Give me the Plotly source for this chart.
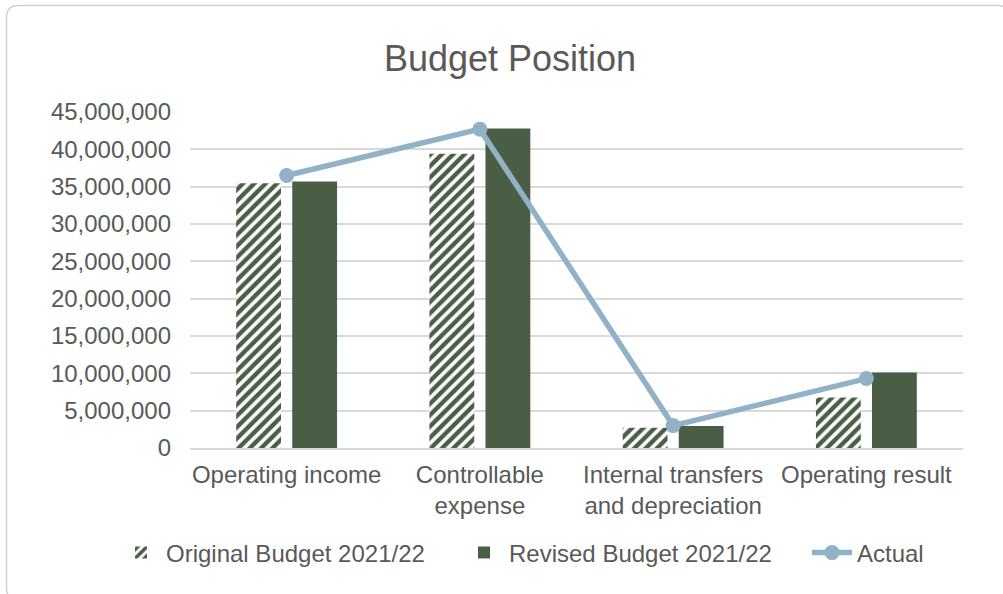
import plotly.graph_objects as go

# Budget figures by line item
categories = ["Operating income", "Controllable<br>expense",
              "Internal transfers<br>and depreciation", "Operating result"]
original_budget = [35_450_000, 39_400_000, 2_700_000, 6_750_000]
revised_budget = [35_700_000, 42_800_000, 2_950_000, 10_100_000]
actual = [36_500_000, 42_700_000, 3_000_000, 9_300_000]

GREEN = "#4a5e46"
BLUE = "#91b2c6"
TEXT = "#595959"
GRID = "#d9d9d9"
FONT = "Liberation Sans, Arial, sans-serif"

W, H = 1003, 594
L, R, T, B = 190, 40, 112, 146

fig = go.Figure()
fig.add_trace(go.Bar(
    name="Original Budget 2021/22", x=categories, y=original_budget,
    legend="legend",
    marker=dict(color="white",
                pattern=dict(shape="/", fgcolor=GREEN, bgcolor="white",
                             fgopacity=1, size=8, solidity=0.55,
                             fillmode="replace"),
                line=dict(width=0)),
))
fig.add_trace(go.Bar(
    name="Revised Budget 2021/22", x=categories, y=revised_budget,
    legend="legend2",
    marker=dict(color=GREEN, line=dict(width=0)),
))
fig.add_trace(go.Scatter(
    name="Actual", x=categories, y=actual, mode="lines+markers",
    legend="legend3",
    line=dict(color=BLUE, width=5.5),
    marker=dict(color=BLUE, size=15),
))

# rounded chart-area frame, in paper coordinates
pw, ph = W - L - R, H - T - B
def px(x):
    return (x - L) / pw
def py(y):
    return (H - B - y) / ph
x0, y0, x1, y1, rad = 6.5, 5.5, 1010, 600, 12
path = (f"M {px(x0 + rad)} {py(y0)} L {px(x1 - rad)} {py(y0)} "
        f"Q {px(x1)} {py(y0)} {px(x1)} {py(y0 + rad)} "
        f"L {px(x1)} {py(y1 - rad)} Q {px(x1)} {py(y1)} {px(x1 - rad)} {py(y1)} "
        f"L {px(x0 + rad)} {py(y1)} Q {px(x0)} {py(y1)} {px(x0)} {py(y1 - rad)} "
        f"L {px(x0)} {py(y0 + rad)} Q {px(x0)} {py(y0)} {px(x0 + rad)} {py(y0)} Z")


def legend_at(left_px):
    return dict(orientation="h", x=px(left_px), xanchor="left",
                y=py(553), yanchor="middle", bgcolor="rgba(0,0,0,0)",
                font=dict(size=24, color=TEXT, family=FONT), itemwidth=40)


fig.update_layout(
    width=W, height=H,
    margin=dict(l=L, r=R, t=T, b=B),
    paper_bgcolor="white", plot_bgcolor="white",
    font=dict(family=FONT, size=24, color=TEXT),
    title=dict(text="Budget Position", x=510 / W, xanchor="center",
               y=1 - 58 / H, yanchor="middle",
               font=dict(size=36, color=TEXT, family=FONT)),
    barmode="group", bargap=0.42, bargroupgap=0.2,
    showlegend=True,
    legend=legend_at(116),
    legend2=legend_at(459),
    legend3=legend_at(807),
    xaxis=dict(showgrid=False, showline=True, linecolor=GRID, linewidth=1.5,
               ticks="", ticklabelstandoff=4,
               tickfont=dict(size=24, color=TEXT)),
    yaxis=dict(range=[0, 45_000_000], dtick=5_000_000, tickformat=",d",
               showgrid=True, gridcolor=GRID, gridwidth=1.5, zeroline=False,
               showline=False, ticks="", ticklabelstandoff=18,
               tickfont=dict(size=24, color=TEXT)),
    shapes=[dict(type="path", path=path, xref="paper", yref="paper",
                 line=dict(color="#d0d0d0", width=1.5), layer="above")],
)

fig.write_html("out.html")
